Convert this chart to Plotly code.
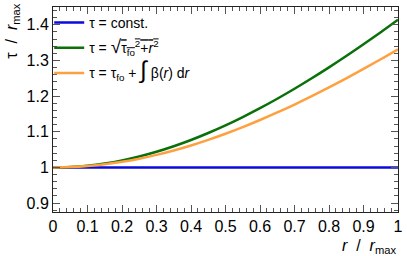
import plotly.graph_objects as go

r_vals = [0.0, 0.05, 0.1, 0.15, 0.2, 0.25, 0.3, 0.35, 0.4, 0.45, 0.5,
          0.55, 0.6, 0.65, 0.7, 0.75, 0.8, 0.85, 0.9, 0.95, 1.0]
tau_const = [1.0] * len(r_vals)
tau_sqrt = [1.0, 1.0013, 1.0050, 1.0112, 1.0198, 1.0308, 1.0440, 1.0595, 1.0770, 1.0966,
            1.1180, 1.1413, 1.1662, 1.1927, 1.2207, 1.2500, 1.2806, 1.3124, 1.3454, 1.3793, 1.4142]
tau_int = [1.0, 1.0010, 1.0040, 1.0090, 1.0158, 1.0246, 1.0352, 1.0476, 1.0616, 1.0773,
           1.0944, 1.1130, 1.1330, 1.1542, 1.1765, 1.2000, 1.2245, 1.2500, 1.2763, 1.3034, 1.3314]

x_ticks = [0, 0.1, 0.2, 0.3, 0.4, 0.5, 0.6, 0.7, 0.8, 0.9, 1]
x_tick_labels = ["0", "0.1", "0.2", "0.3", "0.4", "0.5", "0.6", "0.7", "0.8", "0.9", "1"]
y_ticks = [0.9, 1.0, 1.1, 1.2, 1.3, 1.4]
y_tick_labels = ["0.9", "1", "1.1", "1.2", "1.3", "1.4"]

FONT = "Liberation Sans, Arial, sans-serif"

fig = go.Figure()
fig.add_trace(go.Scatter(x=r_vals, y=tau_const, mode="lines",
                         line=dict(color="#0a0adc", width=2.5),
                         legendgroup="a",
                         name="τ = const."))
fig.add_trace(go.Scatter(x=r_vals, y=tau_sqrt, mode="lines",
                         line=dict(color="#0a700a", width=2.5, shape="spline"),
                         legendgroup="b",
                         name="τ = <span style='font-size:19px'>√</span><span style='text-decoration:overline'>τ<sub>fo</sub><sup>2</sup>+<i>r</i><sup>2</sup></span>"))
fig.add_trace(go.Scatter(x=r_vals, y=tau_int, mode="lines",
                         line=dict(color="#ffa040", width=2.5, shape="spline"),
                         legendgroup="c",
                         name="τ = τ<sub>fo</sub> + <span style='font-size:24px'>∫</span> β(<i>r</i>) d<i>r</i>"))

axis_common = dict(showline=True, linecolor="#222", linewidth=1, mirror="allticks",
                   ticks="inside", ticklen=7, tickcolor="#555", showgrid=False,
                   zeroline=False, tickfont=dict(family=FONT, size=16, color="#000"))

fig.update_xaxes(range=[0, 1], tickvals=x_ticks, ticktext=x_tick_labels,
                 minor=dict(dtick=0.02, ticks="inside", ticklen=4, tickcolor="#555"),
                 **axis_common)
fig.update_yaxes(range=[0.875, 1.45], tickvals=y_ticks, ticktext=y_tick_labels,
                 minor=dict(tick0=0.9, dtick=0.02, ticks="inside", ticklen=4, tickcolor="#555"),
                 **axis_common)

fig.update_layout(
    width=407, height=256,
    margin=dict(l=53, r=9, t=7, b=44, autoexpand=False),
    paper_bgcolor="white", plot_bgcolor="white",
    showlegend=True,
    legend=dict(x=-0.011, y=1.0, xanchor="left", yanchor="top",
                bgcolor="rgba(0,0,0,0)", font=dict(family=FONT, size=14, color="#000"),
                itemwidth=30, tracegroupgap=4),
    annotations=[
        dict(text="τ  /  <i>r</i><sub>max</sub>", xref="paper", yref="paper",
             x=-0.118, y=1.025, xanchor="center", yanchor="top", textangle=-90,
             showarrow=False, font=dict(family=FONT, size=16, color="#000")),
        dict(text="<i>r</i>  /  <i>r</i><sub>max</sub>", xref="paper", yref="paper",
             x=1.0, y=-0.11, xanchor="right", yanchor="top",
             showarrow=False, font=dict(family=FONT, size=16, color="#000")),
    ],
)

fig.write_html("out.html", config={"displayModeBar": False},
               post_script="document.body.style.margin='0';document.body.style.padding='0';")
